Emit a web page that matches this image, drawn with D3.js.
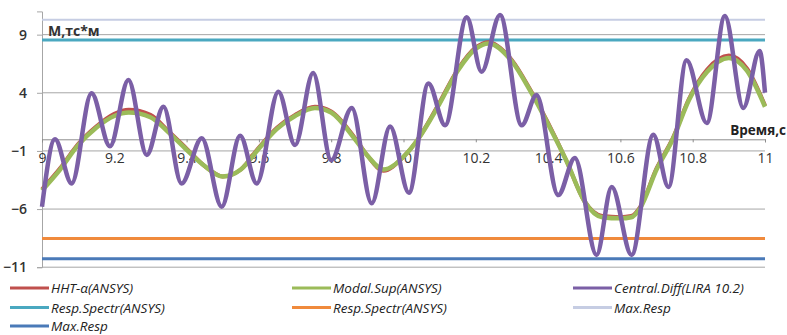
<!DOCTYPE html>
<html><head><meta charset="utf-8">
<script src="https://cdn.jsdelivr.net/npm/d3@7"></script>
<style>
body{margin:0;background:#fff;}
svg{display:block;}
text{font-family:"Open Sans",sans-serif;}
</style></head>
<body>
<svg id="chart" width="787" height="335"></svg>
<script>
// ---- data ----
const smoothT = [9.0,9.05,9.1,9.15,9.2,9.24,9.3,9.35,9.4,9.45,9.5,9.55,9.6,9.65,9.7,9.755,9.8,9.866,9.9,9.945,10.0,10.04,10.095,10.15,10.2,10.235,10.3,10.35,10.4,10.45,10.5,10.55,10.6,10.63,10.655,10.7,10.745,10.79,10.84,10.9,10.95,11.0];
const modalSup = [-4.4,-2.6,-0.5,1.0,2.0,2.3,1.9,0.6,-0.9,-2.3,-3.2,-2.6,-0.8,0.9,2.0,2.7,2.3,0.0,-1.4,-2.6,-1.5,0.0,2.8,5.9,7.8,8.25,6.7,4.2,1.3,-1.8,-5.3,-6.7,-6.8,-6.7,-5.9,-2.6,0.0,3.4,5.8,7.0,5.9,2.8];
const hhtAlpha = [-4.3,-2.5,-0.4,1.1,2.2,2.55,2.1,0.7,-0.8,-2.3,-3.2,-2.6,-0.7,1.0,2.1,2.8,2.4,0.1,-1.4,-2.7,-1.5,0.0,2.9,6.0,7.9,8.35,6.8,4.3,1.4,-1.8,-5.3,-6.6,-6.7,-6.6,-5.8,-2.5,0.1,3.5,6.0,7.2,6.1,2.9];
const diffT = [9.0,9.036,9.082,9.137,9.188,9.239,9.29,9.336,9.386,9.442,9.497,9.548,9.594,9.654,9.70,9.75,9.80,9.857,9.912,9.963,10.015,10.069,10.115,10.175,10.216,10.267,10.327,10.368,10.428,10.474,10.534,10.576,10.631,10.691,10.733,10.783,10.839,10.889,10.94,10.985,11.0];
const centralDiff = [-5.8,0.0,-3.8,3.95,-0.6,5.1,-1.35,2.8,-3.8,0.1,-5.8,0.3,-3.8,4.1,-0.5,5.7,-1.8,2.7,-5.5,1.1,-4.6,4.8,1.2,10.5,5.8,10.7,1.2,3.8,-4.8,-1.6,-9.95,-4.1,-9.95,0.4,-4.1,6.8,1.4,10.6,2.7,7.6,4.0];
const respSpectrPos = 8.53;
const respSpectrNeg = -8.53;
const maxRespPos = 10.28;
const maxRespNeg = -10.28;
const yTicks = [-11,-6,-1,4,9];
const xTicks = [9,9.2,9.4,9.6,9.8,10,10.2,10.4,10.6,10.8,11];
const xTickLabels = ["9","9.2","9.4","9.6","9.8","10","10.2","10.4","10.6","10.8","11"];
const legendNames = ["HHT-α(ANSYS)","Modal.Sup(ANSYS)","Central.Diff(LIRA 10.2)","Resp.Spectr(ANSYS)","Resp.Spectr(ANSYS)","Max.Resp","Max.Resp"];
const legendColors = ["#c0504d","#9bbb59","#7b5fa6","#4aa8c0","#f08a3c","#c6cde3","#4a7ab8"];

// ---- chart ----
const svg = d3.select("#chart");
const x = d3.scaleLinear().domain([9,11]).range([42,765]);
const y = d3.scaleLinear().domain([-11,11]).range([267.2,11.4]);

// gridlines
svg.append("g").selectAll("line").data(yTicks).join("line")
  .attr("x1",x(9)).attr("x2",x(11))
  .attr("y1",d=>y(d)).attr("y2",d=>y(d))
  .attr("stroke","#a6a6a6").attr("stroke-width",1);

// y axis
const yAxis = svg.append("g").attr("transform",`translate(${x(9)},0)`)
  .call(d3.axisLeft(y).tickValues(yTicks).tickSize(5).tickPadding(10).tickFormat(d3.format("d")));
yAxis.select(".domain").attr("stroke","#a6a6a6");
yAxis.selectAll(".tick line").attr("stroke","#a6a6a6");
yAxis.selectAll(".tick text").attr("font-size",14).attr("fill","#333").attr("font-family","Open Sans")
  .attr("font-weight",600);

// x axis at zero
const xAxis = svg.append("g").attr("transform",`translate(0,${y(0)})`)
  .call(d3.axisBottom(x).tickValues(xTicks).tickSize(3).tickPadding(11)
     .tickFormat((d,i)=>xTickLabels[i]));
xAxis.select(".domain").attr("stroke","#8c8c8c");
xAxis.selectAll(".tick line").attr("stroke","#8c8c8c");
xAxis.selectAll(".tick text").attr("font-size",14).attr("fill","#333").attr("font-family","Open Sans");

// axis titles
svg.append("text").attr("x",48).attr("y",y(9)+1).attr("font-size",14).attr("font-weight",700)
  .attr("fill","#333").text("M,тс*м");
svg.append("text").attr("x",786).attr("y",y(0)-4).attr("text-anchor","end").attr("font-size",13.5)
  .attr("font-weight",700).attr("fill","#222").text("Время,с");

// horizontal reference lines
const hl = [
  {v:maxRespPos,c:legendColors[5],w:2.2},
  {v:respSpectrPos,c:legendColors[3],w:3},
  {v:respSpectrNeg,c:legendColors[4],w:3},
  {v:maxRespNeg,c:legendColors[6],w:3}
];
svg.append("g").selectAll("line").data(hl).join("line")
  .attr("x1",x(9)).attr("x2",x(11))
  .attr("y1",d=>y(d.v)).attr("y2",d=>y(d.v))
  .attr("stroke",d=>d.c).attr("stroke-width",d=>d.w);

// series lines
const line = d3.line().x(d=>x(d[0])).y(d=>y(d[1])).curve(d3.curveMonotoneX);
const hhtData = smoothT.map((t,i)=>[t,hhtAlpha[i]]);
const modalData = smoothT.map((t,i)=>[t,modalSup[i]]);
const diffData = diffT.map((t,i)=>[t,centralDiff[i]]);
svg.append("path").datum(hhtData).attr("d",line).attr("fill","none")
  .attr("stroke",legendColors[0]).attr("stroke-width",4).attr("stroke-linejoin","round");
svg.append("path").datum(modalData).attr("d",line).attr("fill","none")
  .attr("stroke",legendColors[1]).attr("stroke-width",4.5).attr("stroke-linejoin","round");
svg.append("path").datum(diffData).attr("d",line).attr("fill","none")
  .attr("stroke",legendColors[2]).attr("stroke-width",4.5).attr("stroke-linejoin","round");

// legend
const colX = [10,292,573];
const rowY = [288,307.5,326];
const lg = svg.append("g").selectAll("g").data(legendNames).join("g")
  .attr("transform",(d,i)=>`translate(${colX[i%3]},${rowY[Math.floor(i/3)]})`);
lg.append("line").attr("x1",0).attr("x2",39).attr("y1",0).attr("y2",0)
  .attr("stroke",(d,i)=>legendColors[i]).attr("stroke-width",3);
lg.append("text").attr("x",41).attr("y",5).attr("font-size",13.5).attr("font-style","italic")
  .attr("fill","#222").text(d=>d);
</script>
</body></html>
